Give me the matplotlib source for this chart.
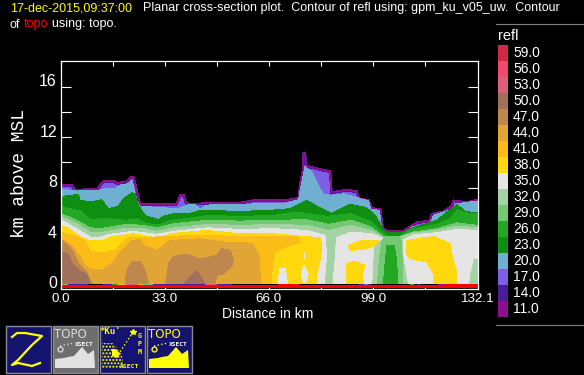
import numpy as np
import matplotlib
matplotlib.use("Agg")
import matplotlib.pyplot as plt
from matplotlib.patches import Rectangle, Polygon

# ---------- colour scale ----------
levels = [11, 14, 17, 20, 23, 26, 29, 32, 35, 38, 41, 44, 47, 50, 53, 56, 59]
colors = ['#8b0f8f', '#4a1c9a', '#7b60e6', '#6fb0d2', '#0f8f12', '#22a822', '#74c874', '#a5d2a5',
          '#e5e5e5', '#ffd80d', '#fbbc18', '#e0a535', '#bd874e', '#a0705c', '#dd5f7c', '#f2476f', '#cf2848']
cmap = dict(zip(levels, colors))
FLOOR = 0.36

# ---------- contour outlines, km along / km above MSL ----------
env_x = [0, 3.5, 4.6, 11.5, 13.6, 16.7, 18, 21, 22.2, 23.1, 23.8, 24.7, 25.2, 33.6, 36.8, 37.9, 39.1, 39.6, 40.5, 56.9, 60.9, 71.7, 75.4, 75.9, 76.8, 77, 77.5, 77.7, 85.4, 85.9, 90.7, 93.9, 94.7, 97.6, 98.6, 101.3, 102.1, 103.4, 108.7, 110.8, 112.9, 117.1, 117.6, 121.3, 124, 124.5, 128.7, 132.1]
env_y = [8.17, 8.17, 7.78, 7.83, 8.44, 8.49, 8.3, 8.44, 8.78, 8.78, 8.17, 7.12, 6.67, 6.64, 6.67, 7.35, 7.35, 6.85, 6.67, 6.75, 6.93, 6.98, 7.12, 8.17, 9.37, 10.69, 10.69, 9.68, 9.23, 7.57, 7.78, 7.65, 7.04, 6.98, 6.32, 6.24, 4.74, 4.5, 4.5, 4.87, 5.19, 5.34, 5.87, 6.06, 6.5, 6.93, 6.77, 6.98]

l20_x = [0, 5.1, 12.5, 14.1, 17.3, 18.9, 21.5, 22.6, 23.3, 24.1, 25.2, 32.6, 36.8, 41, 42.6, 44.2, 46.4, 56.9, 71.7, 75.4, 77, 77.5, 79.5, 81.7, 83.2, 85.4, 89.7, 93.4, 97.6, 98.3, 101, 101.8, 102.5, 109.2, 111.3, 117.1, 118.2, 123.5, 125.6, 132.1]
l20_y = [7.88, 7.72, 7.78, 7.91, 7.88, 8.17, 8.31, 8.57, 7.91, 6.98, 6.51, 6.4, 6.3, 6.67, 6.67, 6.27, 6.61, 6.67, 6.77, 7.04, 9.1, 9.63, 9.25, 8.17, 7.5, 7.38, 7.5, 7.25, 6.93, 6.27, 6.19, 4.66, 4.47, 4.47, 4.87, 5.13, 5.79, 6.24, 6.72, 6.93]

l23_x = [0, 2, 5.7, 6.2, 9.9, 13, 13.6, 15.2, 18.3, 20, 22.6, 23.6, 24.7, 26.8, 31, 32.6, 35.8, 41, 44.2, 56.9, 66.4, 72.7, 77.9, 82.2, 85.9, 91.8, 97, 100.2, 102.3, 103.4, 108.7, 110.8, 119.2, 122.4, 125.6, 128.2, 132.1]
l23_y = [7.14, 7.38, 7.43, 6.98, 6.85, 7.04, 6.85, 6.32, 6.51, 7.12, 7.57, 7.51, 6.59, 5.79, 5.45, 5.71, 5.93, 5.93, 6.19, 6.11, 6.19, 6.32, 6.98, 6.4, 5.93, 6.67, 6.4, 5.61, 4.6, 4.47, 4.47, 4.74, 5.4, 6.06, 6.64, 6.11, 5.98]

l26_x = [0, 6.2, 9.4, 14.6, 21, 24.1, 27.3, 31.5, 34.7, 40, 46.4, 56.9, 67.5, 74.9, 84.4, 92, 98.6, 101.3, 103.4, 107.6, 110.8, 119.2, 123.5, 125.6, 128.7, 132.1]
l26_y = [6.51, 6.14, 5.45, 5.56, 5.4, 5.53, 5.13, 5.05, 5.4, 5.53, 5.79, 5.71, 5.79, 6.06, 5.71, 5.93, 5.26, 4.6, 4.15, 4.12, 4.66, 5.08, 5.53, 6.24, 5.98, 5.93]

l29_x = [0, 4.1, 9.4, 12.5, 21, 26.3, 30.5, 35.8, 46.4, 56.9, 67.5, 77.9, 85, 92, 98.1, 102.3, 107.6, 111.8, 119.2, 125.6, 132.1]
l29_y = [5.93, 5.53, 4.81, 4.74, 5.08, 5, 4.81, 5.13, 5.4, 5.34, 5.4, 5.45, 5.08, 5.4, 4.92, 4.13, 4.13, 4.47, 4.74, 5.19, 5]

l32_x = [0, 5.1, 9.9, 13.6, 21, 26.3, 30.5, 35.8, 46.4, 56.9, 67.5, 77.9, 85, 92, 98.6, 102.3, 107.6, 111.3, 119.2, 125.6, 132.1]
l32_y = [5.71, 5.13, 4.39, 4.47, 4.79, 4.74, 4.52, 4.79, 5.08, 5, 5.08, 5, 4.6, 5, 4.6, 4.02, 4.07, 4.39, 4.6, 4.95, 4.81]

col29_x = [102, 107.8, 108.4, 108.4, 100.4, 101.1]
col29_y = [4.07, 4.07, 1.96, FLOOR, FLOOR, 2.49]
col26_x = [103.4, 105.7, 106.5, 106.8, 102.3, 102.9]
col26_y = [3.41, 3.41, 2.22, FLOOR, FLOOR, 2.22]

l35a_x = [0, 5.1, 9.4, 12.5, 15.7, 23.1, 30.5, 35.8, 46.4, 56.9, 67.5, 77.9, 83.8, 84.3, 83.5, 0]
l35a_y = [5.45, 4.74, 4.07, 4.07, 4.29, 4.52, 4.29, 4.52, 4.81, 4.68, 4.74, 4.6, 4.21, 2.6, FLOOR, FLOOR]
l35b_x = [87.4, 92, 98.6, 102, 99.2, 98.6, 86.3, 87.1]
l35b_y = [4.02, 4.47, 4.34, 4.0, 3.41, FLOOR, FLOOR, 2.49]
l35c_x = [108.5, 111.8, 119.2, 125.6, 132.1, 132.1, 130.9, 129.6, 129.3, 110.3, 108.7]
l35c_y = [3.81, 4.25, 4.42, 4.68, 4.6, 2.35, 2.49, 1.16, FLOOR, FLOOR, 2.62]

l38a_x = [0, 2, 6.2, 9.4, 13.6, 15.7, 23.1, 30.5, 36.8, 46.4, 56.9, 67.5, 82.1, 82.8, 82.2, 81, 81.2, 0]
l38a_y = [5, 4.81, 4.13, 3.76, 3.81, 4.07, 4.34, 4, 4.39, 4.6, 4.34, 4.34, 4.02, 3.41, 2.22, 0.9, FLOOR, FLOOR]
l38b_x = [91.3, 95, 100.7, 99.7, 97, 91.8]
l38b_y = [3.41, 3.81, 3.81, 3.41, 3.15, 3.02]
l38c_x = [90.5, 93.4, 96.5, 95.5, 96, 90.5]
l38c_y = [1.96, 2.17, 1.83, 1.16, FLOOR, FLOOR]
l38d_x = [109.7, 118.2, 123.5, 124, 125.6, 125.4, 118.2, 118.2, 116, 110.8, 109.7]
l38d_y = [3.81, 4.13, 3.54, 2.75, 1.16, FLOOR, FLOOR, 1.16, 2.09, 2.35, 2.75]

hole1_x = [69, 69.4, 71.2, 71.9]
hole1_y = [FLOOR, 1.56, 1.56, FLOOR]
hole2_x = [76.2, 77.2, 78.5, 77.7, 77]
hole2_y = [1.16, 1.83, 1.16, 0.5, 0.5]
hole3_x = [77, 77.4, 77.4, 77]
hole3_y = [2.9, 2.9, 2.35, 2.35]

l41_x = [0, 4.1, 7.8, 9.4, 13.6, 17.8, 20.4, 21.5, 26.3, 33.7, 44.2, 56.9, 67.5, 75.4, 75.9, 71.2, 68, 67.2, 66.7, 0]
l41_y = [4.47, 4.2, 3.81, 2.96, 2.8, 3.1, 3.81, 4.02, 4.02, 4.13, 4.2, 4.13, 4.13, 4.07, 3.68, 3.28, 2.88, 1.96, FLOOR, FLOOR]

l44_x = [0, 3.5, 6.2, 7.8, 9.9, 13.6, 16.7, 18.9, 20.8, 22.6, 25.2, 26.3, 30.5, 32.6, 34.7, 44.2, 54, 56.9, 60.9, 63, 63.4, 0]
l44_y = [3.94, 3.41, 2.5, 1.82, 1.48, 1.48, 2.09, 2.88, 3.28, 3.81, 3.86, 3.41, 3.02, 3.41, 3.81, 3.94, 3.6, 3.68, 3.55, 2.49, FLOOR, FLOOR]

l47a_x = [0, 2.5, 4, 5.8, 8, 10, 0]
l47a_y = [3.86, 3.4, 2.9, 1.9, 1.35, FLOOR, FLOOR]
l47b_x = [20.4, 21, 22.6, 25.2, 26.8, 27.9]
l47b_y = [FLOOR, 1.43, 2.09, 2.17, 1.43, FLOOR]
l47c_x = [33.4, 34.2, 35.8, 40, 44.2, 49.5, 51.1, 53.7, 54.8, 54.3, 51.6, 49.5, 49]
l47c_y = [FLOOR, 1.96, 2.54, 2.7, 2.35, 2.62, 3.15, 3.02, 2.35, 1.83, 1.16, 1.03, FLOOR]

l50a_x = [0, 2.5, 3.4, 5.7, 8.1, 9.5, 0]
l50a_y = [2.96, 2.7, 2.09, 1.43, 1.16, FLOOR, FLOOR]
l50b_x = [39, 43.2, 44.2, 45.8]
l50b_y = [FLOOR, 1.43, 1.03, FLOOR]

# topography along the bottom of the section
topo_x = [0, 69, 76, 122, 132.1]
topo_y = [0.27, 0.34, 0.27, 0.34, 0.34]

# thin strip of returns just above the topography
strip_x0 = [0.15, 2.5, 13, 16.4, 18.3, 20.9, 24.7, 26.2, 29.4, 32.6, 45.8, 49.5, 94.3, 96, 97.5, 110.7, 112.9, 119.6]
strip_x1 = [2.5, 8.8, 16.4, 18.3, 20.9, 24.7, 26.2, 29.4, 32.6, 45.8, 49.5, 54.3, 96, 97.5, 98.5, 112, 114.2, 122.2]
strip_lv = [29, 14, 14, 26, 41, 53, 41, 29, 14, 14, 53, 14, 14, 17, 14, 26, 14, 11]

title_stamp = "17-dec-2015,09:37:00"
title_rest = "Planar cross-section plot.  Contour of refl using: gpm_ku_v05_uw.  Contour"
x_ticks = [0, 16.5, 33, 49.5, 66, 82.5, 99, 115.5, 132.1]
x_labels = ['0.0', '', '33.0', '', '66.0', '', '99.0', '', '132.1']
y_ticks = [0, 2, 4, 6, 8, 10, 12, 14, 16]
y_labels = ['0', '', '4', '', '8', '', '12', '', '16']

# ---------- figure ----------
W, H = 584, 375
fig = plt.figure(figsize=(W/100, H/100), dpi=100, facecolor='black')
plt.rcParams['font.family'] = ['Liberation Sans', 'DejaVu Sans']


def axpx(x0, y0, x1, y1):
    return fig.add_axes([x0/W, 1 - y1/H, (x1-x0)/W, (y1-y0)/H])


ax = axpx(60.5, 61.3, 477.5, 288.5)
ax.set_facecolor('black')
ax.set_xlim(0, 132.1)
ax.set_ylim(0, 18)


def poly(level, x, y, z=2):
    ax.fill(x, y, color=cmap[level], lw=0, antialiased=False, zorder=z)


def band(level, x, y, z=2):
    poly(level, [x[0]] + list(x) + [x[-1]], [FLOOR] + list(y) + [FLOOR], z)


band(17, env_x, env_y)
ax.plot(env_x, env_y, color=cmap[14], lw=1.0, zorder=2.1, antialiased=False, solid_joinstyle='miter')
ax.plot(env_x, np.array(env_y) + 0.05, color=cmap[11], lw=0.6, zorder=2.2, antialiased=False)
band(20, l20_x, l20_y, 2.3)
band(23, l23_x, l23_y, 2.4)
band(26, l26_x, l26_y, 2.5)
band(29, l29_x, l29_y, 2.6)
band(32, l32_x, l32_y, 2.7)
poly(29, col29_x, col29_y, 2.8)
poly(26, col26_x, col26_y, 2.9)
for px_, py_ in [(l35a_x, l35a_y), (l35b_x, l35b_y), (l35c_x, l35c_y)]:
    poly(35, px_, py_, 3)
for px_, py_ in [(l38a_x, l38a_y), (l38b_x, l38b_y), (l38c_x, l38c_y), (l38d_x, l38d_y)]:
    poly(38, px_, py_, 3.1)
for px_, py_ in [(hole1_x, hole1_y), (hole2_x, hole2_y), (hole3_x, hole3_y)]:
    poly(35, px_, py_, 3.2)
poly(41, l41_x, l41_y, 3.3)
poly(44, l44_x, l44_y, 3.4)
for px_, py_ in [(l47a_x, l47a_y), (l47b_x, l47b_y), (l47c_x, l47c_y)]:
    poly(47, px_, py_, 3.5)
for px_, py_ in [(l50a_x, l50a_y), (l50b_x, l50b_y)]:
    poly(50, px_, py_, 3.6)

# bottom strip and topography
ax.fill_between([0, 132.1], 0.2, FLOOR, color='black', lw=0, zorder=3.7)
for a, b, lv in zip(strip_x0, strip_x1, strip_lv):
    ax.fill_between([a, b], 0.2, FLOOR, color=cmap[lv], lw=0, antialiased=False, zorder=3.8)
ax.fill_between(topo_x, 0, topo_y, step='post', color='#ff0000', lw=0, antialiased=False, zorder=3.9)

# axes furniture
for s in ax.spines.values():
    s.set_color('white')
    s.set_linewidth(0.9)
    s.set_zorder(6)
ax.set_xticks(x_ticks)
ax.set_xticklabels(x_labels, color='white', fontsize=9.6)
ax.tick_params(axis='x', direction='in', length=3.6, width=0.8, color='white', top=True, bottom=True, pad=3.5, zorder=6)
ax.set_yticks(y_ticks)
ax.set_yticklabels([''] * len(y_ticks))
ax.tick_params(axis='y', direction='in', length=7.2, width=0.8, color='white', left=True, right=True, zorder=6)
for v, lab in zip(y_ticks, y_labels):
    if lab:
        ax.annotate(lab, (0, v), xycoords=('axes fraction', 'data'), xytext=(-3.5, 5),
                    textcoords='offset pixels', ha='right', va='center', color='white', fontsize=11.5)
for tick in ax.xaxis.get_major_ticks():
    tick.tick1line.set_zorder(6)
    tick.tick2line.set_zorder(6)

# colour bar
cb = axpx(498, 45, 508, 316.7)
cb.axis('off')
cb.set_xlim(0, 1)
cb.set_ylim(-0.5, len(levels) - 0.5)
cb.barh(range(len(levels)), [1] * len(levels), height=1, color=colors, lw=0, antialiased=False)
for i, lv in enumerate(levels):
    cb.annotate(f"{lv:.1f}", (1, i), xycoords=('axes fraction', 'data'), xytext=(5, 0),
                textcoords='offset pixels', ha='left', va='center', color='white', fontsize=10)

# overlay in pixels for the header, labels and buttons
ov = fig.add_axes([0, 0, 1, 1], zorder=10)
ov.set_xlim(0, W)
ov.set_ylim(H, 0)
ov.axis('off')
ov.patch.set_alpha(0)

ov.text(10, 8.5, title_stamp, color='#ffff00', fontsize=9, va='center')
ov.text(143, 8.5, title_rest, color='white', fontsize=9, va='center')
ov.text(10, 24.5, "of", color='white', fontsize=9, va='center')
ov.text(24, 24.5, "topo", color='#ff0000', fontsize=9, va='center')
ov.text(52, 24.5, "using: topo.", color='white', fontsize=9, va='center')
ov.text(20, 173, "km above MSL", color='white', family='Liberation Mono', fontsize=13, rotation=90, ha='center', va='center')
ov.text(267.5, 314.5, "Distance in km", color='white', fontsize=10, ha='center', va='center')
ov.text(498, 36, "refl", color='white', fontsize=10.5, va='center')
ov.plot([496, 584], [23.5, 23.5], color='#808080', lw=0.8)
ov.plot([496, 584], [324.5, 324.5], color='#808080', lw=0.8)


def button(x0, face):
    ov.add_patch(Rectangle((x0 + 0.5, 325.5), 45, 47, facecolor=face, edgecolor='#8a8a96', lw=1.0))


navy = '#14146e'
Y = '#ffff00'
button(5, navy)
button(52, '#6e6e6e')
button(99, navy)
button(146, navy)

# Z
zx = [12, 17, 25, 42, 32, 18, 12, 18, 32, 40]
zy = [337, 333, 333, 336, 345, 360, 365, 363, 366, 363]
ov.plot(zx, zy, color=Y, lw=1.6)

# TOPO buttons
for x0, col, xs, terr in [(52, '#d8d8d8', '#ffffff', '#e2e2e2'), (146, Y, '#ffffff', Y)]:
    tx = np.array([3, 3, 12, 16, 22, 30, 36, 42, 43, 3]) + x0
    ty = [362, 359, 358, 357, 356, 347, 354, 350, 368, 368]
    ov.add_patch(Polygon(list(zip(tx, ty)), closed=True, facecolor=terr, lw=0))
    ov.text(x0 + 18.5, 334.5, "TOPO", color=col, fontsize=8.5, ha='center', va='center', family='DejaVu Sans')
    ov.text(x0 + 32, 345, "XSECT", color=xs, fontsize=4.4, ha='center', va='center', family='DejaVu Sans Mono', weight='bold')
    ov.plot([x0 + 8, x0 + 22], [346, 343], ls=':', color=col, lw=1)
    ov.plot([x0 + 8], [349], 'o', ms=3.5, mfc='none', mec=col, mew=1)

# GPM button
ov.add_patch(Polygon([(102, 343), (113, 343), (122, 355), (124, 368), (102, 368)], closed=True,
                     facecolor=navy, edgecolor=Y, hatch='.....', lw=0))
ov.add_patch(Polygon([(112, 349), (116, 349), (120, 354), (117, 358), (112, 356)], closed=True, facecolor=Y, lw=0))
ov.text(110, 332, "*Ku'", color=Y, fontsize=6.5, ha='center', va='center', family='DejaVu Sans Mono', weight='bold')
ov.plot([133, 120], [332, 352], ls=':', color=Y, lw=1)
ov.plot([133], [332], '*', color=Y, ms=4)
for i, ch in enumerate("GPM"):
    ov.text(139.5, 335.5 + 8 * i, ch, color=Y, fontsize=4.8, ha='center', va='center', family='DejaVu Sans Mono', weight='bold')
ov.text(130, 366.5, "XSECT", color=Y, fontsize=4.6, ha='center', va='center', family='DejaVu Sans Mono', weight='bold')

fig.savefig("out.png", dpi=100, facecolor='black')
